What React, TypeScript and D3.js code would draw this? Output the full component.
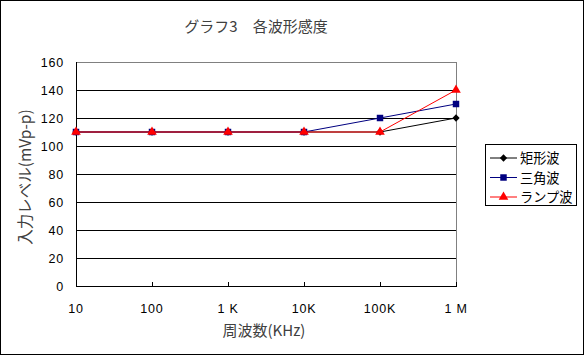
import React from "react";
import * as d3 from "d3";

const categories = ["10", "100", "1K", "10K", "100K", "1M"];
const tickLabels = ["10", "100", "1 K", "10K", "100K", "1 M"];
const rectWave = [110, 110, 110, 110, 110, 120];
const triWave = [110, 110, 110, 110, 120, 130];
const rampWave = [110, 110, 110, 110, 110, 140];
const yTicks = [0, 20, 40, 60, 80, 100, 120, 140, 160];
const seriesNames = ["矩形波", "三角波", "ランプ波"];

const W = 586;
const H = 357;
const left = 76, right = 456, top = 62, bottom = 286;

export default function App() {
  const x = d3.scalePoint<string>().domain(categories).range([left, right]);
  const y = d3.scaleLinear().domain([0, 160]).range([bottom, top]);
  const series = [
    { name: seriesNames[0], values: rectWave, color: "#000000", shape: d3.symbolDiamond2, size: 34 },
    { name: seriesNames[1], values: triWave, color: "#000080", shape: d3.symbolSquare, size: 42 },
    { name: seriesNames[2], values: rampWave, color: "#ff0000", shape: d3.symbolTriangle, size: 40 },
  ];
  const line = d3
    .line<number>()
    .x((_, i) => x(categories[i]) as number)
    .y((d) => y(d));
  const numFont = "'Liberation Sans', Arial, sans-serif";
  const jpFont = "'Noto Sans CJK JP', sans-serif";
  return (
    <svg
      width={W}
      height={H}
      style={{ position: "absolute", left: 0, top: 0, background: "#fff" }}
    >
      <rect x={0.5} y={0.5} width={583} height={354} fill="#fff" stroke="#000" strokeWidth={1} />
      <text x={256} y={32} textAnchor="middle" fontFamily={jpFont} fontSize={15} fill="#404040">
        グラフ3　各波形感度
      </text>
      {yTicks.map((t) => (
        <line
          key={"g" + t}
          x1={left}
          x2={right}
          y1={y(t) + 0.5}
          y2={y(t) + 0.5}
          stroke={t === 160 ? "#808080" : "#000"}
          strokeWidth={1}
        />
      ))}
      <line x1={right + 0.5} x2={right + 0.5} y1={top} y2={bottom} stroke="#808080" />
      <line x1={left + 0.5} x2={left + 0.5} y1={top} y2={bottom + 1} stroke="#000" />
      <line x1={left} x2={right + 1} y1={bottom + 0.5} y2={bottom + 0.5} stroke="#000" />
      {categories.map((c) => (
        <line
          key={"t" + c}
          x1={(x(c) as number) + 0.5}
          x2={(x(c) as number) + 0.5}
          y1={bottom}
          y2={bottom - 4}
          stroke="#000"
        />
      ))}
      {yTicks.map((t) => (
        <text
          key={"yl" + t}
          x={64}
          y={y(t) + 5}
          textAnchor="end"
          fontFamily={numFont}
          fontSize={12.5}
          letterSpacing={0.8}
          fill="#000"
        >
          {t}
        </text>
      ))}
      {categories.map((c, i) => (
        <text
          key={"xl" + c}
          x={x(c) as number}
          y={313}
          textAnchor="middle"
          fontFamily={numFont}
          fontSize={12.5}
          letterSpacing={0.8}
          fill="#000"
        >
          {tickLabels[i]}
        </text>
      ))}
      <text x={264} y={336} textAnchor="middle" fontFamily={jpFont} fontSize={15} fill="#404040">
        周波数(KHz)
      </text>
      <text
        transform={`translate(31,177) rotate(-90)`}
        textAnchor="middle"
        fontFamily={jpFont}
        fontSize={15.5}
        fill="#404040"
      >
        入力レベル(mVp-p)
      </text>
      {series.map((s) => (
        <g key={s.name}>
          <path d={line(s.values) || ""} fill="none" stroke={s.color} strokeWidth={1} />
          {s.values.map((v, i) => (
            <path
              key={i}
              d={d3.symbol().type(s.shape).size(s.size)() || ""}
              transform={`translate(${x(categories[i])},${y(v)})`}
              fill={s.color}
            />
          ))}
        </g>
      ))}
      <rect x={485.5} y={144.5} width={91} height={61} fill="#fff" stroke="#000" />
      {series.map((s, i) => {
        const ly = 158 + i * 19.5;
        return (
          <g key={"lg" + s.name}>
            <line x1={490} x2={517} y1={ly} y2={ly} stroke={s.color} />
            <path
              d={d3.symbol().type(s.shape).size(s.size)() || ""}
              transform={`translate(503.5,${ly})`}
              fill={s.color}
            />
            <text x={520} y={ly + 5} fontFamily={jpFont} fontSize={13.2} fill="#000">
              {s.name}
            </text>
          </g>
        );
      })}
    </svg>
  );
}
